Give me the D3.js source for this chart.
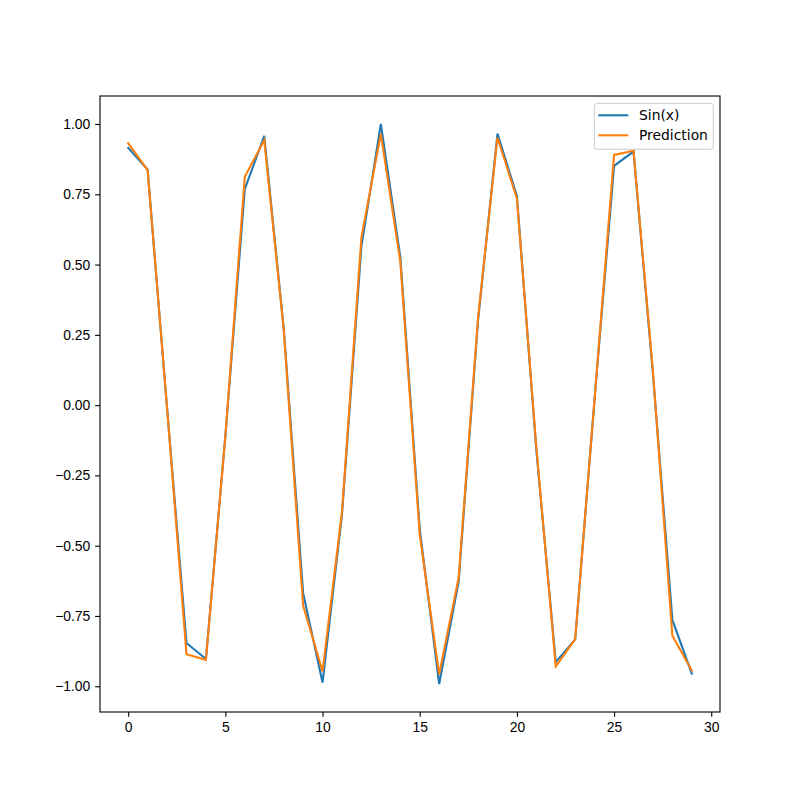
<!DOCTYPE html>
<html>
<head>
<meta charset="utf-8">
<script src="https://cdn.jsdelivr.net/npm/d3@7"></script>
<style>
  body { margin: 0; background: #fff; }
  svg { font-family: "DejaVu Sans", sans-serif; }
  .tick text { font-size: 13.89px; fill: #000; }
  .tick line { stroke: #000; stroke-width: 1.11px; }
</style>
</head>
<body>
<svg id="canvas"></svg>
<script>
// values
const xs = d3.range(0, 30);
const sinValues = [0.915, 0.838, -0.01, -0.846, -0.903, -0.11, 0.768, 0.958, 0.275, -0.668,
                   -0.987, -0.39, 0.565, 1.0, 0.528, -0.44, -0.992, -0.63, 0.30, 0.966,
                   0.744, -0.16, -0.914, -0.833, 0.025, 0.851, 0.902, 0.11, -0.764, -0.955];
const predValues = [0.932, 0.836, -0.01, -0.886, -0.906, -0.11, 0.812, 0.943, 0.27, -0.713,
                    -0.947, -0.38, 0.597, 0.965, 0.511, -0.46, -0.958, -0.615, 0.31, 0.952,
                    0.735, -0.15, -0.929, -0.832, 0.025, 0.890, 0.905, 0.12, -0.820, -0.944];
const seriesNames = ["Sin(x)", "Prediction"];
const colors = ["#1f77b4", "#ff7f0e"];
const xTicks = [0, 5, 10, 15, 20, 25, 30];
const yTicks = [-1.0, -0.75, -0.5, -0.25, 0.0, 0.25, 0.5, 0.75, 1.0];

const W = 800, H = 800;
const margin = {top: 96, right: 80, bottom: 88, left: 100};
const width = W - margin.left - margin.right;
const height = H - margin.top - margin.bottom;

const svg = d3.select("#canvas").attr("width", W).attr("height", H);
const g = svg.append("g").attr("transform", "translate(" + margin.left + "," + margin.top + ")");

// matplotlib style 5% padding on both axes
function padded(ext) {
  const p = (ext[1] - ext[0]) * 0.05;
  return [ext[0] - p, ext[1] + p];
}
const allY = sinValues.concat(predValues);
const x = d3.scaleLinear().domain(padded(d3.extent(xs))).range([0, width]);
const y = d3.scaleLinear().domain(padded(d3.extent(allY))).range([height, 0]);

const fmt = d => d3.format(".2f")(d).replace("-", "\u2212");

const xAxis = g.append("g")
  .attr("transform", "translate(0," + height + ")")
  .call(d3.axisBottom(x).tickValues(xTicks).tickSize(4.86).tickPadding(4.86).tickFormat(d3.format("d")));
const yAxis = g.append("g")
  .call(d3.axisLeft(y).tickValues(yTicks).tickSize(4.86).tickPadding(4.86).tickFormat(fmt));
xAxis.select(".domain").remove();
yAxis.select(".domain").remove();
xAxis.selectAll("text").attr("dy", "0.75em");

const line = d3.line().x((d, i) => x(xs[i])).y(d => y(d));

[sinValues, predValues].forEach(function (vals, k) {
  g.append("path")
    .datum(vals)
    .attr("d", line)
    .attr("fill", "none")
    .attr("stroke", colors[k])
    .attr("stroke-width", 2.08)
    .attr("stroke-linejoin", "miter")
    .attr("stroke-linecap", "square");
});

// axes frame
g.append("rect")
  .attr("width", width).attr("height", height)
  .attr("fill", "none").attr("stroke", "#000").attr("stroke-width", 1.11);

// legend
const lg = g.append("g").attr("transform", "translate(" + (width - 125.7) + "," + 7.3 + ")");
lg.append("rect")
  .attr("width", 119).attr("height", 46)
  .attr("rx", 3).attr("ry", 3)
  .attr("fill", "#fff").attr("fill-opacity", 0.8)
  .attr("stroke", "#cccccc").attr("stroke-width", 1);
seriesNames.forEach(function (name, k) {
  const yy = 12 + k * 20;
  lg.append("line")
    .attr("x1", 4).attr("x2", 34).attr("y1", yy).attr("y2", yy)
    .attr("stroke", colors[k]).attr("stroke-width", 2.08);
  lg.append("text")
    .attr("x", 44.7).attr("y", yy).attr("dy", "0.35em")
    .attr("font-size", "13.89px")
    .text(name);
});
</script>
</body>
</html>
